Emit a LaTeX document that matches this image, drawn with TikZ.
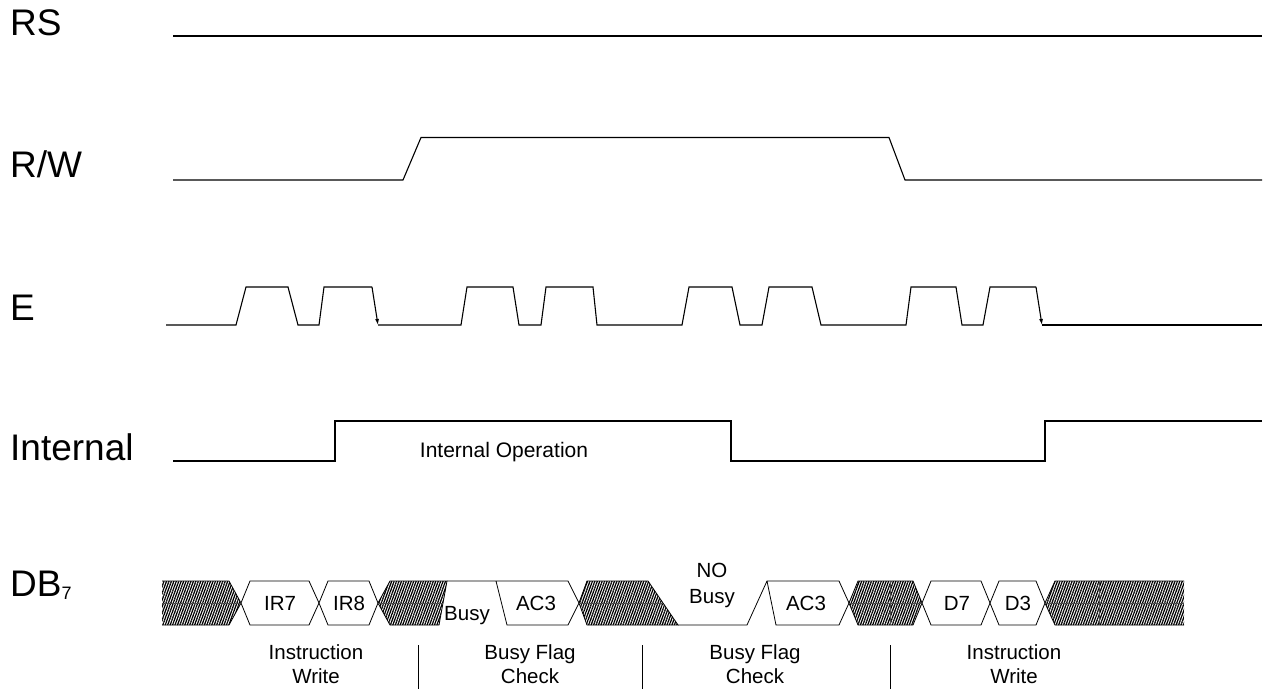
\documentclass[tikz,border=0pt]{standalone}
\usepackage{fontspec}
\setmainfont{Liberation Sans}
\usetikzlibrary{patterns.meta,arrows.meta}
\begin{document}
\begin{tikzpicture}[x=1pt,y=-1pt,
  wave/.style={line width=1.1pt,line join=miter},
  sig/.style={anchor=base west,font=\fontsize{37}{37}\selectfont,inner sep=0pt},
  busval/.style={font=\fontsize{20.5}{20.5}\selectfont,inner sep=0pt},
  phase/.style={font=\fontsize{20.5}{24}\selectfont,align=center,inner sep=0pt},
  hatchfill/.style={pattern={Lines[angle=70,distance=2.3pt,line width=1.25pt]}},
  hatch/.style={hatchfill,draw,line width=0.8pt},
  hex/.style={draw,line width=0.8pt,fill=white},
  midline/.style={line width=0.5pt,black!70},
  sep/.style={line width=0.8pt},
  tip/.style={-{Latex[length=6pt,width=4pt]}}
]
\useasboundingbox (0,0) rectangle (1270,689);
% signal names
\node[sig] (lrs) at (10,35) {RS};
\node[sig] (lrw) at (10,177) {R/W};
\node[sig] (le) at (10,320) {E};
\node[sig] (lint) at (10,460) {Internal};
\node[sig] (ldb) at (10,596) {DB{\fontsize{18}{18}\selectfont\raisebox{-3pt}{7}}};
% RS
\draw[wave] (173,36) -- (1262,36);
% R/W
\draw[wave] (173,180) -- (403,180) -- (421,137.5) -- (889,137.5) -- (905,180) -- (1262,180);
% E
\draw[wave] (166,325) -- (236,325) -- (246,287) -- (288,287) -- (298,325) -- (319,325) -- (324,287) -- (372,287);
\draw[wave,tip] (372,287) -- (378,325);
\draw[wave] (378,325) -- (461,325) -- (467,287) -- (513,287) -- (519,325) -- (541,325) -- (546,287) -- (593,287) -- (597,325) -- (682,325) -- (689,287) -- (732,287) -- (740,325) -- (762,325) -- (769,287) -- (812,287) -- (821,325) -- (906,325) -- (911,287) -- (956,287) -- (962,325) -- (983,325) -- (990,287) -- (1036,287);
\draw[wave,tip] (1036,287) -- (1042,325);
\draw[wave] (1042,325) -- (1262,325);
% Internal
\draw[wave] (173,461) -- (335,461) -- (335,421) -- (731,421) -- (731,461) -- (1045,461) -- (1045,421) -- (1262,421);
\node[font=\fontsize{21}{21}\selectfont] (iop) at (504,452) {Internal Operation};
% DB7 bus
\fill[hatchfill] (162,581) -- (229,581) -- (241,603) -- (229,625) -- (162,625) -- cycle;
\draw[line width=0.8pt] (162,581) -- (229,581) -- (241,603) -- (229,625) -- (162,625);
\draw[midline] (162,603) -- (241,603);
\draw[hex] (241,603) -- (250,581) -- (309,581) -- (319,603) -- (309,625) -- (250,625) -- cycle;
\draw[hex] (319,603) -- (328,581) -- (369,581) -- (378,603) -- (369,625) -- (328,625) -- cycle;
\draw[hatch] (378,603) -- (390,581) -- (447,581) -- (439,625) -- (390,625) -- cycle;
\draw[midline] (378,603) -- (443,603);
\draw[line width=0.8pt] (447,581) -- (568,581) -- (579,603) -- (568,625) -- (507,625) -- (496,581);
\draw[hatch] (579,603) -- (587,581) -- (648,581) -- (678,625) -- (587,625) -- cycle;
\draw[midline] (579,603) -- (663,603);
\draw[line width=0.8pt] (678,625) -- (747,625) -- (767,581) -- (839,581) -- (849,603) -- (839,625) -- (776,625) -- (767,581);
\draw[hatch] (849,603) -- (858,581) -- (913,581) -- (922,603) -- (913,625) -- (858,625) -- cycle;
\draw[midline] (849,603) -- (922,603) (890,581) -- (890,625);
\draw[hex] (922,603) -- (931,581) -- (981,581) -- (990,603) -- (981,625) -- (931,625) -- cycle;
\draw[hex] (990,603) -- (999,581) -- (1036,581) -- (1045,603) -- (1036,625) -- (999,625) -- cycle;
\fill[hatchfill] (1045,603) -- (1055,581) -- (1184,581) -- (1184,625) -- (1055,625) -- cycle;
\draw[line width=0.8pt] (1184,581) -- (1055,581) -- (1045,603) -- (1055,625) -- (1184,625);
\draw[midline] (1045,603) -- (1184,603) (1099,581) -- (1099,625);
% bus values
\node[busval] (vir7) at (280,603) {IR7};
\node[busval] (vir8) at (349,603) {IR8};
\node[busval] (vbusy) at (467,616) {Busy};
\node[busval] (vac1) at (536,603) {AC3};
\node[busval,align=center,font=\fontsize{20.5}{26}\selectfont] (vnob) at (712,585) {NO\\Busy};
\node[busval] (vac2) at (806,603) {AC3};
\node[busval] (vd7) at (957,603) {D7};
\node[busval] (vd3) at (1018,603) {D3};
% phases
\node[phase] (p1) at (316,664) {Instruction\\Write};
\node[phase] (p2) at (530,664) {Busy Flag\\Check};
\node[phase] (p3) at (755,664) {Busy Flag\\Check};
\node[phase] (p4) at (1014,664) {Instruction\\Write};
\coordinate (s1a) at (418,645); \coordinate (s1b) at (418,689);
\coordinate (s2a) at (642,645); \coordinate (s2b) at (642,689);
\coordinate (s3a) at (890,645); \coordinate (s3b) at (890,689);
\draw[sep] (s1a) -- (s1b) (s2a) -- (s2b) (s3a) -- (s3b);
\end{tikzpicture}
\end{document}
